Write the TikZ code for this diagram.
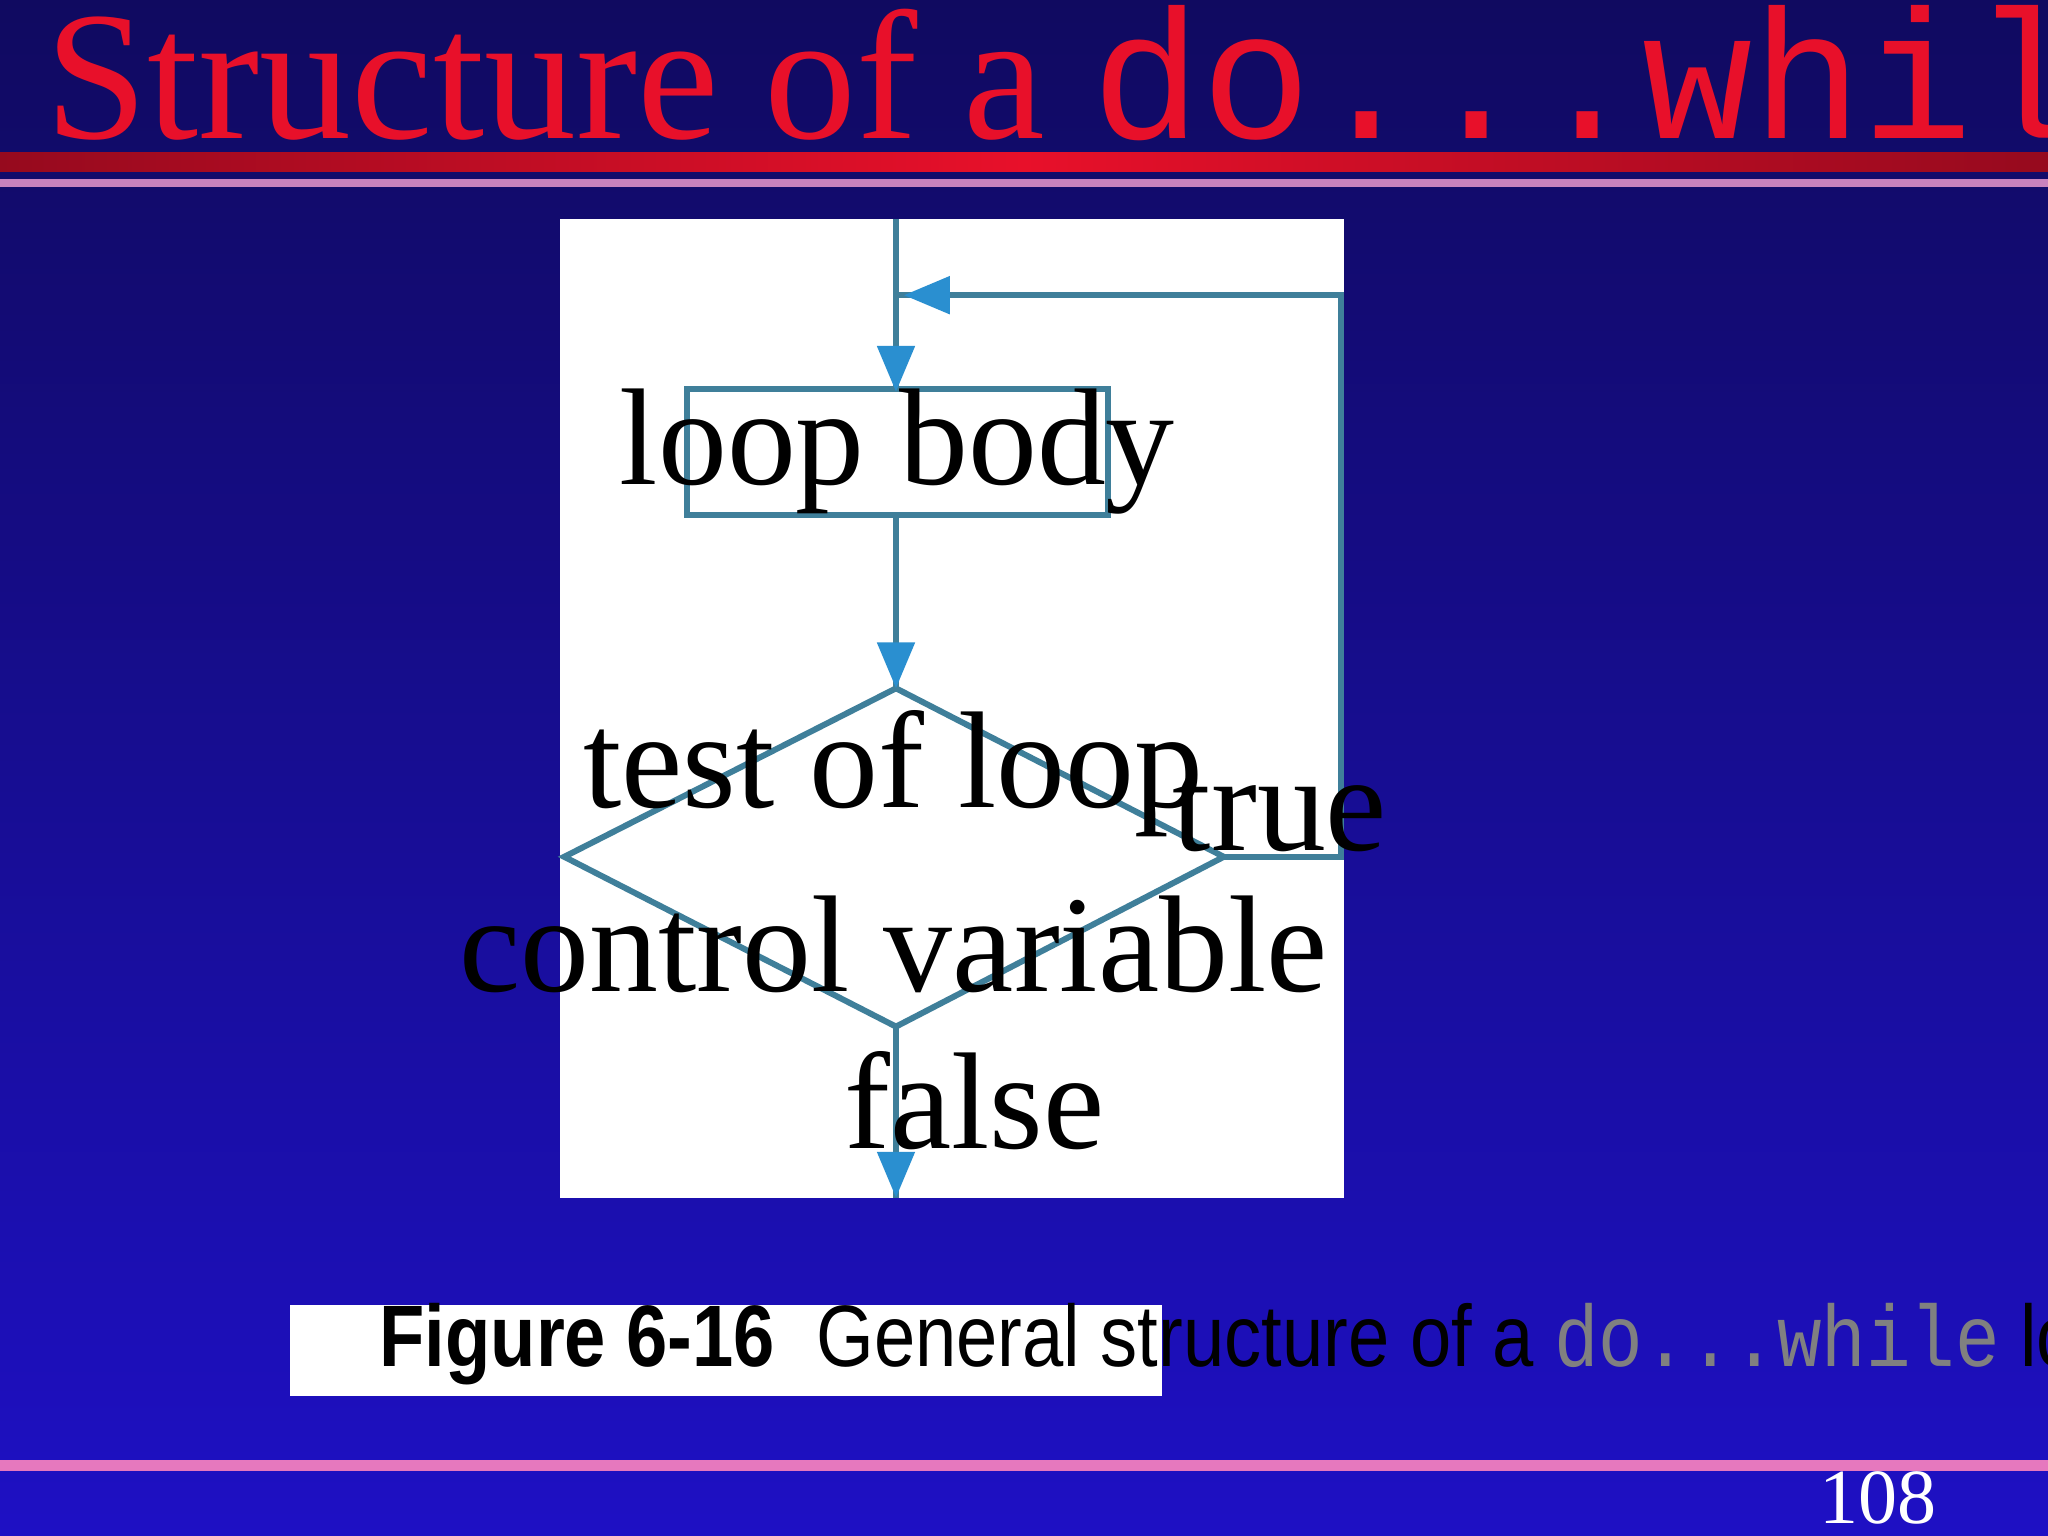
\documentclass[tikz,border=0pt]{standalone}
\usepackage{fontspec}
\setmainfont{Liberation Serif}
\setmonofont{Liberation Mono}
\newfontfamily\capfont{Liberation Sans}
\usetikzlibrary{arrows.meta,shapes.geometric}
\definecolor{ln}{HTML}{3F7F9A}
\definecolor{ar}{HTML}{2A8FD0}
\definecolor{ttl}{HTML}{E8102A}
\definecolor{bgtop}{RGB}{16,10,96}
\definecolor{bgbot}{RGB}{30,16,196}
\definecolor{dred}{RGB}{150,10,30}
\definecolor{pk1}{RGB}{200,130,190}
\definecolor{pk2}{RGB}{230,120,190}
\tikzset{flow/.style={draw=ln,line width=1.3pt},
 tip/.style={-{Triangle[length=10pt,width=8pt,fill=ar,color=ar]}},
 lbl/.style={font=\fontsize{30}{32}\selectfont,inner sep=0pt}}
\begin{document}
\begin{tikzpicture}[x=0.01cm,y=-0.01cm]
\useasboundingbox (0,0) rectangle (1568,1176);
\shade[top color=bgtop, bottom color=bgbot] (0,0) rectangle (1568,1176);
\shade[left color=dred, right color=dred, middle color=ttl] (0,117) rectangle (1568,131);
\fill[pk1] (0,137) rectangle (1568,143);
\fill[pk2] (0,1118) rectangle (1568,1126);
\node[text=ttl,font=\fontsize{40}{44}\selectfont] (title) at (783,70) {General Structure of a \texttt{do...while} Loop};
\node[text=white,font=\fontsize{17}{20}\selectfont] (pg) at (1438,1147) {108};
\fill[white] (429,168) rectangle (1029,917);
\draw[flow] (526,298) rectangle (848,394);
\node[lbl] (bt) at (687,346) {loop body};
\coordinate (top) at (686,168);
\coordinate (bt1) at (686,298);
\coordinate (dt) at (686,527);
\coordinate (dl) at (432,656);
\coordinate (dr) at (937,656);
\coordinate (db) at (686,786);
\coordinate (bot) at (686,917);
\coordinate (c1) at (1027,656);
\coordinate (c2) at (1027,226);
\coordinate (c3) at (686,226);
\draw[flow] (dt) -- (dr) -- (db) -- (dl) -- cycle;
\node[lbl,align=center] (dtxt) at (684,652) {test of loop\\[8pt]control variable};
\draw[flow] (top) -- (bt1);
\draw[flow,tip] (686,250) -- (686,300);
\draw[flow] (686,394) -- (dt);
\draw[flow,tip] (686,480) -- (dt);
\draw[flow] (db) -- (bot);
\draw[flow,tip] (686,870) -- (bot);
\draw[flow] (dr) -- (c1) -- (c2) -- (c3);
\draw[flow,tip] (740,226) -- (692,226);
\node[lbl] (tr) at (980,622) {true};
\node[lbl] (fa) at (746,843) {false};
\fill[white] (222,999) rectangle (890,1069);
\node[font=\capfont\fontsize{19}{22}\selectfont,anchor=west,xscale=0.85,transform shape] (cap) at (280,1029) {\textbf{Figure 6-16}\ \ General structure of a {\ttfamily\color{gray}do...while} loop};
\end{tikzpicture}
\end{document}
